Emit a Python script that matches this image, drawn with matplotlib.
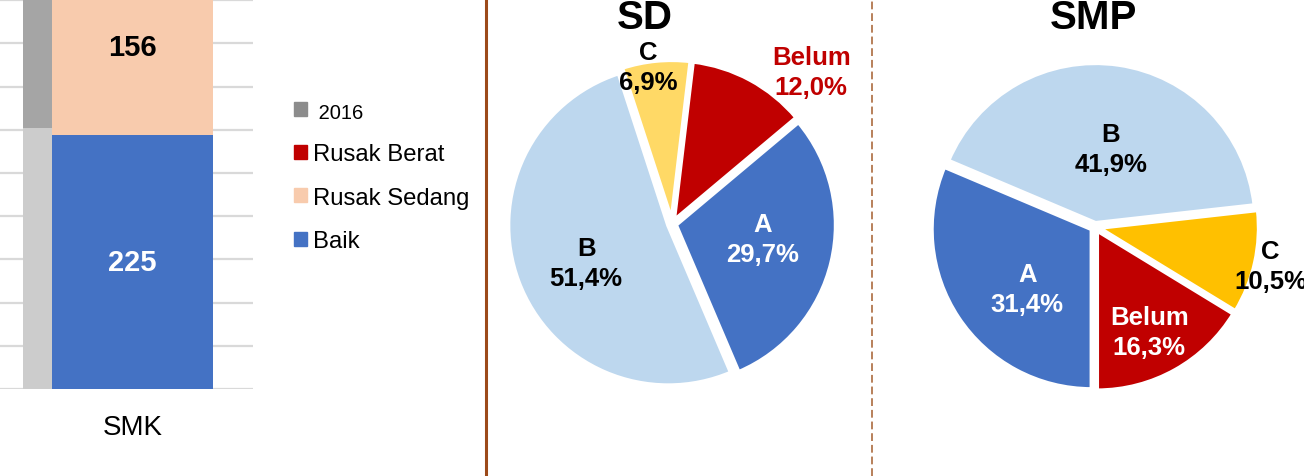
import numpy as np
import matplotlib.pyplot as plt
from matplotlib.patches import Patch
from matplotlib.lines import Line2D

plt.rcParams['font.family'] = ['Liberation Sans', 'DejaVu Sans']

# ---- data ----
smk_series = ["Baik", "Rusak Sedang", "Rusak Berat"]
smk_counts = [225, 156, 2]
smk_2016_pct = [60.4, 38.0, 1.6]
bar_colors = ["#4472C4", "#F8CBAD", "#C00000"]
gray_colors = ["#CCCCCC", "#A5A5A5", "#8C8C8C"]

pie_cats = ["A", "B", "C", "Belum"]
sd_pct = [29.7, 51.4, 6.9, 12.0]
smp_pct = [31.4, 41.9, 10.5, 16.3]

W, H = 1304, 477
fig = plt.figure(figsize=(W / 100, H / 100), dpi=100)

# ---- stacked 100% bar (SMK) ----
ax = fig.add_axes([0, 87 / H, 253 / W, 432 / H])
smk_pct = np.array(smk_counts) / sum(smk_counts) * 100
bw = 0.8
bw16 = 0.144
x16 = -(bw / 2 + bw16 / 2)
bottom = 0
bottom16 = 0
for i in range(len(smk_series)):
    ax.bar(x16, smk_2016_pct[i], bw16, bottom=bottom16, color=gray_colors[i], zorder=2)
    bottom16 += smk_2016_pct[i]
    b = ax.bar(0, smk_pct[i], bw, bottom=bottom, color=bar_colors[i], zorder=2)
    if i < 2:
        ax.bar_label(b, labels=[str(smk_counts[i])], label_type='center',
                     color='white' if i == 0 else 'black', fontsize=21, fontweight='bold')
    bottom += smk_pct[i]

ax.set_xlim(-0.4 - 52 / 201, -0.4 + 201 / 201)
ax.set_ylim(0, 100)
ax.set_yticks(np.arange(0, 101, 10))
ax.yaxis.grid(True, color='#D9D9D9', linewidth=1.6, zorder=0)
ax.set_axisbelow(True)
ax.set_xticks([0])
ax.set_xticklabels(["SMK"], fontsize=20)
ax.tick_params(axis='x', length=0, pad=18)
ax.tick_params(axis='y', length=0, labelleft=False)
for s in ax.spines.values():
    s.set_visible(False)

# legend
handles = [Patch(color="#8C8C8C", label=" 2016"),
           Patch(color="#C00000", label="Rusak Berat"),
           Patch(color="#F8CBAD", label="Rusak Sedang"),
           Patch(color="#4472C4", label="Baik")]
leg = fig.legend(handles=handles, loc='upper left', bbox_to_anchor=(294 / W, 1 - 103 / H),
                 frameon=False, fontsize=17.2, handlelength=0.53, handleheight=0.53,
                 handletextpad=0.25, labelspacing=0.9, borderpad=0, borderaxespad=0)
leg.get_texts()[0].set_fontsize(14.5)

# separators
fig.add_artist(Line2D([486 / W, 486 / W], [0, 1], color='#9C4A1A', linewidth=2.2))
fig.add_artist(Line2D([872 / W, 872 / W], [0, 1], color='#B8805A', linewidth=1.4,
                      linestyle=(0, (4, 2))))


def draw_pie(cx, cy, values, colors, start, text_colors, dist, nudge, title, tx):
    pax = fig.add_axes([(cx - 200) / W, 1 - (cy + 200) / H, 400 / W, 400 / H])
    wedges, _ = pax.pie(values, colors=colors, startangle=start, counterclock=False,
                        explode=[0.025] * len(values), radius=1,
                        wedgeprops=dict(edgecolor='white', linewidth=3))
    pax.set_xlim(-1.25, 1.25)
    pax.set_ylim(-1.25, 1.25)
    pax.axis('off')
    for w, cat, v, tc, r, n in zip(wedges, pie_cats, values, text_colors, dist, nudge):
        mid = np.deg2rad((w.theta1 + w.theta2) / 2 + n)
        txt = cat + "\n" + f"{v:.1f}".replace('.', ',') + "%"
        pax.text(r * np.cos(mid), r * np.sin(mid), txt, ha='center', va='center',
                 color=tc, fontsize=18.5, fontweight='bold', linespacing=1.32)
    fig.text(tx / W, 1 - 29 / H, title, ha='center', va='baseline',
             fontsize=29, fontweight='bold')


draw_pie(672, 225, sd_pct, ["#4472C4", "#BDD7EE", "#FFD966", "#C00000"], 40,
         ["white", "black", "black", "#C00000"], [0.575, 0.59, 0.99, 1.29],
         [4, 4, 3, -14], "SD", 645)
draw_pie(1095, 228, smp_pct, ["#4472C4", "#BDD7EE", "#FFC000", "#C00000"], -90,
         ["white", "black", "black", "white"], [0.575, 0.5, 1.125, 0.74],
         [9, -3, 0, -2], "SMP", 1093)

fig.savefig("out.png", dpi=100)
